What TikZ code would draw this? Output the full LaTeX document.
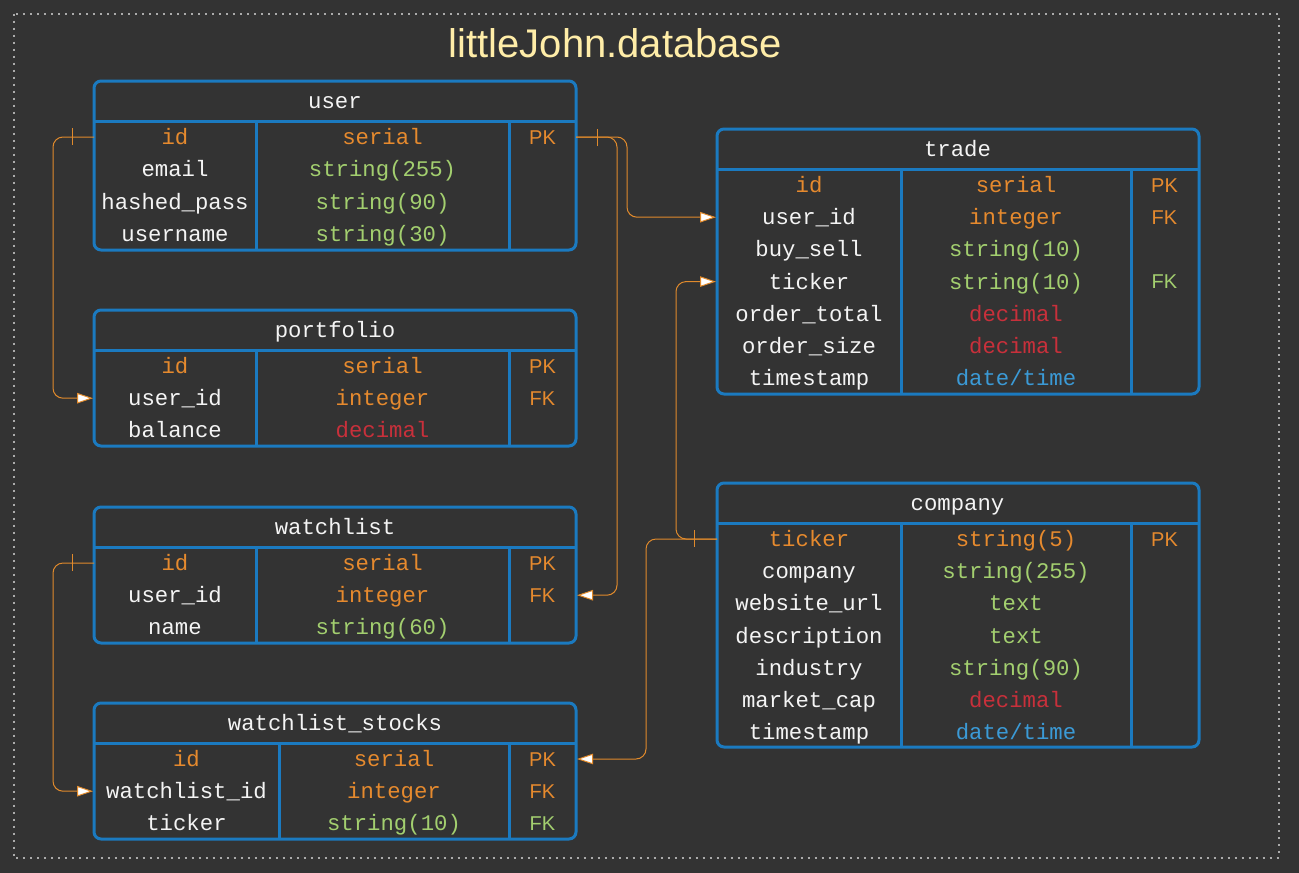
\documentclass[tikz,border=0pt]{standalone}
\usepackage{fontspec}
\setmainfont{Liberation Sans}
\newfontfamily\monof{Liberation Mono}
\newfontfamily\sansf{Liberation Sans}
\usetikzlibrary{arrows.meta,decorations.markings,calc}
\definecolor{bg}{HTML}{333333}
\definecolor{tblue}{HTML}{1B7AC0}
\definecolor{corange}{HTML}{E68A2E}
\definecolor{cgreen}{HTML}{A3CF6F}
\definecolor{cred}{HTML}{C8303B}
\definecolor{cblue}{HTML}{3B9AD6}
\definecolor{cwhite}{HTML}{F4F4F4}
\definecolor{ctitle}{HTML}{FFEDA8}
\definecolor{cline}{HTML}{E08A2C}
\definecolor{cdot}{HTML}{ABABAB}
\newcommand\dtm{date/time}
\begin{document}
\begin{tikzpicture}[x=1pt,y=-1pt,
 tbl/.style={draw=tblue, line width=3pt, rounded corners=7pt, inner sep=0pt, outer sep=0pt, anchor=north west, minimum width=482pt},
 sepline/.style={draw=tblue, line width=3pt},
 cell/.style={font=\monof\fontsize{22.3}{26}\selectfont, inner sep=0pt, text height=15pt, text depth=0pt},
 keyc/.style={font=\sansf\fontsize{20}{24}\selectfont, inner sep=0pt, text height=14.3pt, text depth=0pt},
 conn/.style={draw=cline, line width=1pt, rounded corners=10pt, -{Triangle[length=16pt,width=10.5pt,fill=white,line width=1pt]}, shorten >=1pt},
 onebar/.style={postaction={decorate, decoration={markings, mark=at position #1 with {\draw[cline, line width=1pt, -] (0,-9pt) -- (0,9pt);}}}},
]
% background and frame
\fill[bg] (0,0) rectangle (1299,873);
\draw[cdot, line width=2pt, dash pattern=on 2pt off 5pt] (13.5,13.5) rectangle (1278.5,857.5);
\node[font=\sansf\fontsize{40}{48}\selectfont, text=ctitle, inner sep=0pt, text height=29pt, text depth=0pt] (title) at (615.5,43) {littleJohn.database};

% ---------- user ----------
\node[tbl, minimum height=169pt] (user) at (94,81) {};
\draw[sepline] (94,121) -- (576,121);
\draw[sepline] (256,121) -- (256,250);
\draw[sepline] (509,121) -- (509,250);
\node[cell, text=cwhite] (user-h) at (335,101) {user};
\foreach \nm/\nc/\ty/\tc/\ky/\kc [count=\i from 0] in {
  id/corange/serial/corange/PK/corange,
  email/cwhite/string(255)/cgreen//cwhite,
  hashed\_pass/cwhite/string(90)/cgreen//cwhite,
  username/cwhite/string(30)/cgreen//cwhite}{
  \node[cell, text=\nc] (user-\i) at (175,{137+32.3*\i}) {\nm};
  \node[cell, text=\tc] (user-t\i) at (382.5,{137+32.3*\i}) {\ty};
  \node[keyc, text=\kc] (user-k\i) at (542.5,{137+32.3*\i}) {\ky};
}

% ---------- portfolio ----------
\node[tbl, minimum height=136pt] (portfolio) at (94,310) {};
\draw[sepline] (94,350) -- (576,350);
\draw[sepline] (256,350) -- (256,446);
\draw[sepline] (509,350) -- (509,446);
\node[cell, text=cwhite] (portfolio-h) at (335,330) {portfolio};
\foreach \nm/\nc/\ty/\tc/\ky/\kc [count=\i from 0] in {
  id/corange/serial/corange/PK/corange,
  user\_id/cwhite/integer/corange/FK/corange,
  balance/cwhite/decimal/cred//cwhite}{
  \node[cell, text=\nc] (portfolio-\i) at (175,{366+32.2*\i}) {\nm};
  \node[cell, text=\tc] (portfolio-t\i) at (382.5,{366+32.2*\i}) {\ty};
  \node[keyc, text=\kc] (portfolio-k\i) at (542.5,{366+32.2*\i}) {\ky};
}

% ---------- watchlist ----------
\node[tbl, minimum height=136pt] (watchlist) at (94,507) {};
\draw[sepline] (94,547) -- (576,547);
\draw[sepline] (256,547) -- (256,643);
\draw[sepline] (509,547) -- (509,643);
\node[cell, text=cwhite] (watchlist-h) at (335,527) {watchlist};
\foreach \nm/\nc/\ty/\tc/\ky/\kc [count=\i from 0] in {
  id/corange/serial/corange/PK/corange,
  user\_id/cwhite/integer/corange/FK/corange,
  name/cwhite/string(60)/cgreen//cwhite}{
  \node[cell, text=\nc] (watchlist-\i) at (175,{563+32.2*\i}) {\nm};
  \node[cell, text=\tc] (watchlist-t\i) at (382.5,{563+32.2*\i}) {\ty};
  \node[keyc, text=\kc] (watchlist-k\i) at (542.5,{563+32.2*\i}) {\ky};
}

% ---------- watchlist_stocks ----------
\node[tbl, minimum height=136pt] (wls) at (94,703) {};
\draw[sepline] (94,743) -- (576,743);
\draw[sepline] (279,743) -- (279,839);
\draw[sepline] (509,743) -- (509,839);
\node[cell, text=cwhite] (wls-h) at (335,723) {watchlist\_stocks};
\foreach \nm/\nc/\ty/\tc/\ky/\kc [count=\i from 0] in {
  id/corange/serial/corange/PK/corange,
  watchlist\_id/cwhite/integer/corange/FK/corange,
  ticker/cwhite/string(10)/cgreen/FK/cgreen}{
  \node[cell, text=\nc] (wls-\i) at (186.5,{759+32.2*\i}) {\nm};
  \node[cell, text=\tc] (wls-t\i) at (394,{759+32.2*\i}) {\ty};
  \node[keyc, text=\kc] (wls-k\i) at (542.5,{759+32.2*\i}) {\ky};
}

% ---------- trade ----------
\node[tbl, minimum height=265pt] (trade) at (717,129) {};
\draw[sepline] (717,169) -- (1198,169);
\draw[sepline] (901,169) -- (901,394);
\draw[sepline] (1131,169) -- (1131,394);
\node[cell, text=cwhite] (trade-h) at (957.5,149) {trade};
\foreach \nm/\nc/\ty/\tc/\ky/\kc [count=\i from 0] in {
  id/corange/serial/corange/PK/corange,
  user\_id/cwhite/integer/corange/FK/corange,
  buy\_sell/cwhite/string(10)/cgreen//cwhite,
  ticker/cwhite/string(10)/cgreen/FK/cgreen,
  order\_total/cwhite/decimal/cred//cwhite,
  order\_size/cwhite/decimal/cred//cwhite,
  timestamp/cwhite/\dtm/cblue//cwhite}{
  \node[cell, text=\nc] (trade-\i) at (809,{185+32.2*\i}) {\nm};
  \node[cell, text=\tc] (trade-t\i) at (1016,{185+32.2*\i}) {\ty};
  \node[keyc, text=\kc] (trade-k\i) at (1164.5,{185+32.2*\i}) {\ky};
}

% ---------- company ----------
\node[tbl, minimum height=264pt] (company) at (717,483) {};
\draw[sepline] (717,523) -- (1198,523);
\draw[sepline] (901,523) -- (901,747);
\draw[sepline] (1131,523) -- (1131,747);
\node[cell, text=cwhite] (company-h) at (957.5,503) {company};
\foreach \nm/\nc/\ty/\tc/\ky/\kc [count=\i from 0] in {
  ticker/corange/string(5)/corange/PK/corange,
  company/cwhite/string(255)/cgreen//cwhite,
  website\_url/cwhite/text/cgreen//cwhite,
  description/cwhite/text/cgreen//cwhite,
  industry/cwhite/string(90)/cgreen//cwhite,
  market\_cap/cwhite/decimal/cred//cwhite,
  timestamp/cwhite/\dtm/cblue//cwhite}{
  \node[cell, text=\nc] (company-\i) at (809,{539+32.2*\i}) {\nm};
  \node[cell, text=\tc] (company-t\i) at (1016,{539+32.2*\i}) {\ty};
  \node[keyc, text=\kc] (company-k\i) at (1164.5,{539+32.2*\i}) {\ky};
}

% ---------- connectors ----------
\draw[conn, onebar=22pt] (user.west |- user-0) -- ++(-41,0) |- (portfolio.west |- portfolio-1);
\draw[conn, onebar=21pt] (user.east |- user-0) -- ++(51,0) |- (trade.west |- trade-1);
\draw[conn, onebar=21pt] (user.east |- user-0) -- ++(41,0) |- (watchlist.east |- watchlist-1);
\draw[conn, onebar=22pt] (watchlist.west |- watchlist-0) -- ++(-41,0) |- (wls.west |- wls-1);
\draw[conn, onebar=23pt] (company.west |- company-0) -- ++(-41,0) |- (trade.west |- trade-3);
\draw[conn, onebar=23pt] (company.west |- company-0) -- ++(-71,0) |- (wls.east |- wls-0);
\end{tikzpicture}
\end{document}
